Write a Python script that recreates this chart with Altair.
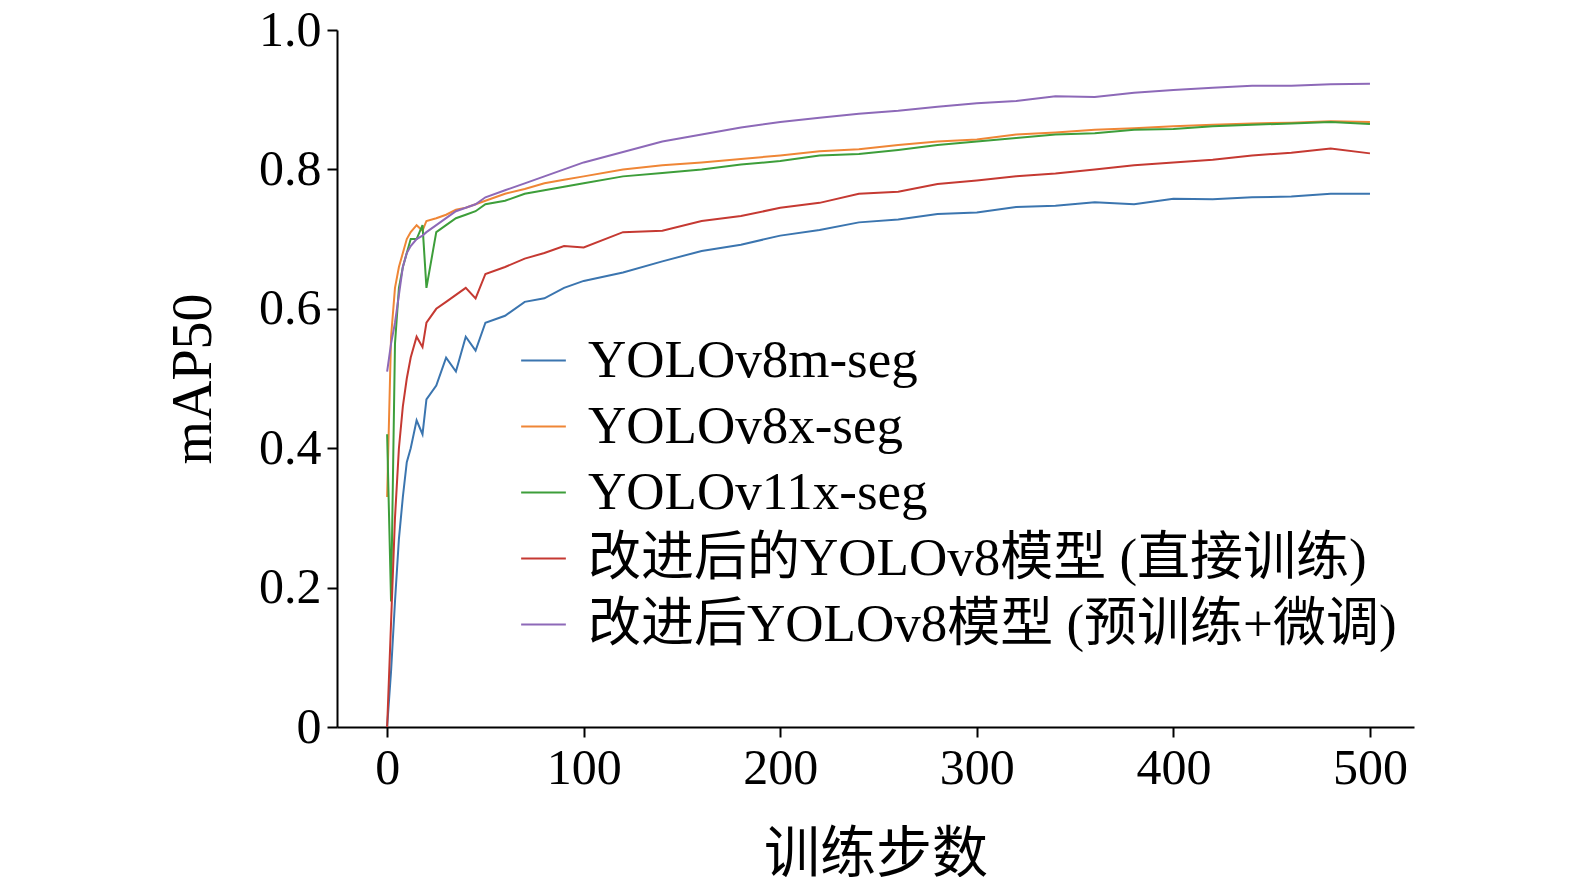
import altair as alt
import pandas as pd

steps = [0, 2, 4, 6, 8, 10, 12, 15, 18, 20, 25, 30, 35, 40, 45, 50, 60, 70, 80, 90, 100,
         120, 140, 160, 180, 200, 220, 240, 260, 280, 300, 320, 340, 360, 380, 400,
         420, 440, 460, 480, 500]

v8m = [0.0, 0.08, 0.18, 0.27, 0.33, 0.38, 0.40, 0.44, 0.42, 0.47, 0.49, 0.53, 0.51, 0.56, 0.54,
       0.58, 0.59, 0.61, 0.615, 0.63, 0.64, 0.652, 0.668, 0.683, 0.692, 0.705, 0.713, 0.724, 0.728,
       0.736, 0.738, 0.746, 0.748, 0.753, 0.750, 0.758, 0.757, 0.760, 0.761, 0.765, 0.765]
v8x = [0.33, 0.56, 0.63, 0.66, 0.68, 0.70, 0.71, 0.72, 0.712, 0.726, 0.73, 0.735, 0.742, 0.745,
       0.75, 0.755, 0.765, 0.772, 0.78, 0.785, 0.79, 0.80, 0.806, 0.81, 0.815, 0.82, 0.826, 0.829,
       0.835, 0.84, 0.843, 0.85, 0.853, 0.857, 0.859, 0.862, 0.864, 0.866, 0.867, 0.869, 0.868]
v11x = [0.42, 0.18, 0.55, 0.63, 0.66, 0.68, 0.70, 0.70, 0.72, 0.63, 0.71, 0.72, 0.73, 0.735,
        0.74, 0.75, 0.755, 0.765, 0.77, 0.775, 0.78, 0.79, 0.795, 0.80, 0.807, 0.812, 0.82, 0.822,
        0.828, 0.835, 0.84, 0.845, 0.85, 0.852, 0.857, 0.858, 0.862, 0.864, 0.866, 0.868, 0.865]
improved = [0.0, 0.15, 0.30, 0.40, 0.46, 0.50, 0.53, 0.56, 0.545, 0.58, 0.60, 0.61, 0.62, 0.63,
            0.615, 0.65, 0.66, 0.672, 0.68, 0.69, 0.688, 0.71, 0.712, 0.726, 0.733, 0.745, 0.752,
            0.765, 0.768, 0.779, 0.784, 0.79, 0.794, 0.80, 0.806, 0.81, 0.814, 0.82, 0.824, 0.83, 0.823]
finetuned = [0.51, 0.55, 0.58, 0.62, 0.66, 0.68, 0.69, 0.70, 0.705, 0.71, 0.72, 0.73, 0.74, 0.745,
             0.75, 0.76, 0.77, 0.78, 0.79, 0.80, 0.81, 0.825, 0.84, 0.85, 0.86, 0.868, 0.874, 0.88,
             0.884, 0.89, 0.895, 0.898, 0.905, 0.904, 0.91, 0.914, 0.917, 0.92, 0.92, 0.922, 0.923]

names = ["YOLOv8m-seg", "YOLOv8x-seg", "YOLOv11x-seg",
         "改进后的YOLOv8模型 (直接训练)", "改进后YOLOv8模型 (预训练+微调)"]
colors = ["#3b75af", "#ef8636", "#3d9e3a", "#c53932", "#8d69b8"]
series = [v8m, v8x, v11x, improved, finetuned]

rows = []
for name, vals in zip(names, series):
    for s, v in zip(steps, vals):
        rows.append({"step": s, "value": v, "model": name})
df = pd.DataFrame(rows)

font = "Liberation Serif, Noto Sans CJK SC"

chart = alt.Chart(df).mark_line(strokeWidth=2).encode(
    x=alt.X("step:Q", title="训练步数", scale=alt.Scale(domain=[-25.5, 522.4], nice=False, zero=False),
            axis=alt.Axis(values=[0, 100, 200, 300, 400, 500], grid=False, titlePadding=34)),
    y=alt.Y("value:Q", title="mAP50", scale=alt.Scale(domain=[0, 1], nice=False),
            axis=alt.Axis(values=[0, 0.2, 0.4, 0.6, 0.8, 1.0], grid=False, titlePadding=36,
                          labelExpr="datum.value == 0 ? '0' : format(datum.value, '.1f')")),
    color=alt.Color("model:N", scale=alt.Scale(domain=names, range=colors), sort=names,
                    legend=alt.Legend(title=None, orient="none", legendX=180, legendY=304,
                                      symbolType="stroke", symbolSize=2000, symbolStrokeWidth=2,
                                      labelFontSize=53, labelFont=font, rowPadding=12,
                                      labelOffset=18, labelLimit=1200)),
    order="step:Q",
).properties(
    width=1077, height=697,
    autosize=alt.AutoSizeParams(type="none"),
    padding={"left": 329, "top": 22, "right": 150, "bottom": 150},
).configure_axis(
    labelFont=font, titleFont=font, labelFontSize=50, titleFontSize=56,
    titleFontWeight="normal", labelColor="black", titleColor="black",
    domainColor="black", tickColor="black", tickSize=10, domainWidth=2, tickWidth=2,
    labelPadding=6,
).configure_view(stroke=None)

chart.save("out.html", embed_options={"renderer": "svg", "actions": False})
